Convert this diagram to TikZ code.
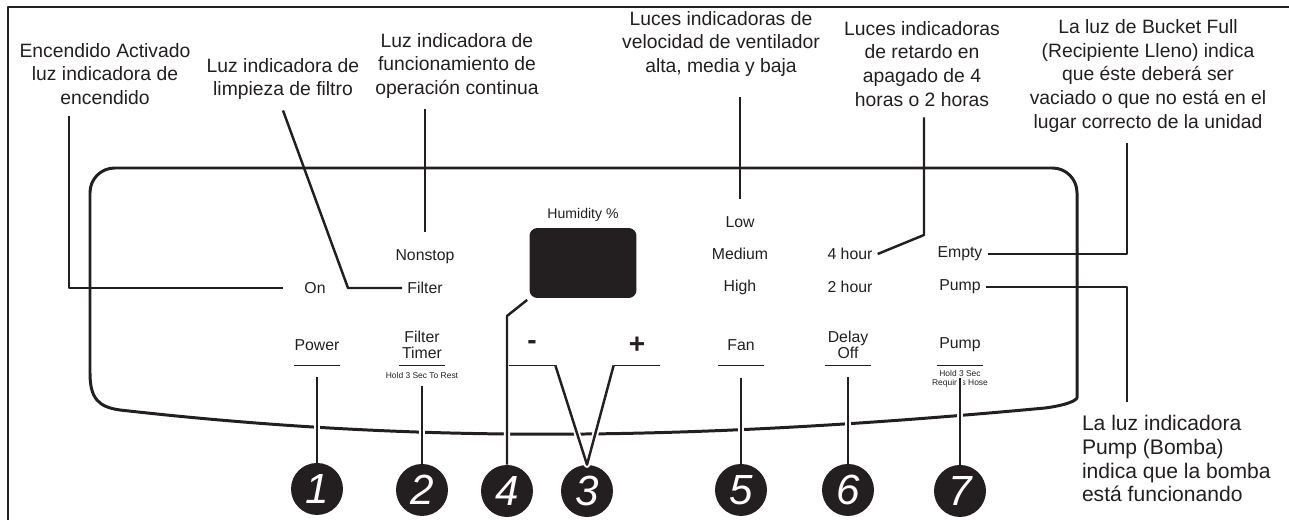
\documentclass[tikz,border=0pt]{standalone}
\usepackage{fontspec}
\setsansfont{Liberation Sans}
\definecolor{ink}{HTML}{231F20}

\begin{document}
\begin{tikzpicture}[x=0.02cm,y=-0.02cm,line join=round,
    every node/.style={font=\sffamily,text=ink},
    callout/.style={align=center,inner sep=0pt,outer ysep=6pt,font=\sffamily\fontsize{11}{13.6}\selectfont},
    lamp/.style={inner sep=0pt,outer xsep=3pt,font=\sffamily\fontsize{9}{9}\selectfont},
    key/.style={align=center,inner sep=0pt,minimum width=0.92cm,minimum height=0.8cm,font=\sffamily\fontsize{9}{9.2}\selectfont},
    smallprint/.style={align=center,inner sep=0pt,font=\sffamily\fontsize{4.8}{5.4}\selectfont},
    screen/.style={fill=ink,rounded corners=4.5pt,minimum width=2.14cm,minimum height=1.4cm,inner sep=0pt},
    num/.style={circle,fill=ink,text=white,minimum size=1.04cm,inner sep=0pt,font=\sffamily\itshape\fontsize{24}{24}\selectfont},
    lead/.style={draw=ink,line width=1.4pt},
    halo/.style={preaction={draw=white,line width=3.6pt}},
    bar/.style={draw=ink,line width=0.9pt}]
  \useasboundingbox (0,0) rectangle (1289,520);

  % frame and panel outline
  \draw[ink,line width=1.7pt] (8,520) -- (8,7) -- (1289,7);
  \draw[ink,line width=1.7pt] (90,373) [rounded corners=14pt] -- (90,168) -- (1077,168) -- (1077,373) [sharp corners]
    .. controls (1077,400) and (1068,405) .. (1045,408)
    .. controls (700,440) and (430,445) .. (120,410)
    .. controls (98,407) and (90,398) .. cycle;

  % callouts
  \node[callout] (t1) at (105,74) {Encendido Activado\\luz indicadora de\\encendido};
  \node[callout] (t2) at (283,79) {Luz indicadora de\\limpieza de filtro};
  \node[callout] (t3) at (457,66) {Luz indicadora de\\funcionamiento de\\operación continua};
  \node[callout] (t4) at (721,44) {Luces indicadoras de\\velocidad de ventilador\\alta, media y baja};
  \node[callout] (t5) at (922,64) {Luces indicadoras\\de retardo en\\apagado de 4\\horas o 2 horas};
  \node[callout] (t6) at (1148,76) {La luz de Bucket Full\\(Recipiente Lleno) indica\\que éste deberá ser\\vaciado o que no está en el\\lugar correcto de la unidad};
  \node[callout,outer sep=0pt,anchor=north west,align=left,font=\sffamily\fontsize{12}{13.6}\selectfont] (t7) at (1082,415) {La luz indicadora\\Pump (Bomba)\\indica que la bomba\\está funcionando};

  % indicator lights
  \node[lamp] (nonstop) at (425,257) {Nonstop};
  \node[lamp] (filter) [below of=nonstop,node distance=0.62cm] {Filter};
  \node[lamp] (on) [left of=filter,node distance=2.2cm] {On};
  \node[lamp] (low) at (740,222) {Low};
  \node[lamp] (medium) [below of=low,node distance=0.64cm] {Medium};
  \node[lamp] (high) [below of=medium,node distance=0.66cm] {High};
  \node[lamp] (h4) [right of=medium,node distance=2.2cm] {4 hour};
  \node[lamp] (h2) [right of=high,node distance=2.2cm] {2 hour};
  \node[lamp] (empty) [right of=h4,node distance=2.2cm] {Empty};
  \node[lamp] (pumplamp) [right of=h2,node distance=2.2cm] {Pump};

  % display
  \node[screen] (disp) at (583,263) {};
  \node[lamp,font=\sffamily\fontsize{8}{8}\selectfont] (hum) [above of=disp,node distance=0.96cm] {Humidity \%};

  % keys
  \node[key] (power) at (317,345) {Power};
  \node[key] (ftimer) at (422,345) {Filter\\Timer};
  \node[key,font=\sffamily\bfseries\fontsize{16}{16}\selectfont] (minus) at (532,345) {-};
  \node[key,font=\sffamily\bfseries\fontsize{16}{16}\selectfont] (plus) at (637,345) {+};
  \node[key] (fan) at (741,345) {Fan};
  \node[key] (delay) at (848,345) {Delay\\Off};
  \node[key] (pumpkey) at (960,345) {Pump};
  \node[smallprint] (hold1) [below of=ftimer,node distance=0.6cm] {Hold 3 Sec To Rest};
  \node[smallprint] (hold2) [below of=pumpkey,node distance=0.68cm] {Hold 3 Sec\\Requires Hose};

  % numbers
  \node[num] (n1) [below of=power,node distance=2.88cm] {1};
  \node[num] (n2) [below of=ftimer,node distance=2.9cm] {2};
  \node[num] (n4) at (507,491) {4};
  \node[num] (n3) at (587,491) {3};
  \node[num] (n5) [below of=fan,node distance=2.9cm] {5};
  \node[num] (n6) [below of=delay,node distance=2.9cm] {6};
  \node[num] (n7) [below of=pumpkey,node distance=2.92cm] {7};

  \coordinate (k1) at (69,288);
  \coordinate (k2) at (348,288);
  \coordinate (k4) at (507,316);
  \coordinate (k5) at (924,235);
  \coordinate (k6) at (1127,254);
  \coordinate (k7) at (1127,402);

  % leaders to the lights
  \draw[lead,shorten >=0.32cm] (t1.south -| k1) -- (on.west -| k1) -- (on.west);
  \draw[lead] (t2.south) -- (filter.west -| k2) -- (filter.west);
  \draw[lead,shorten >=0.35cm] (t3.south -| nonstop.north) -- (nonstop.north);
  \draw[lead,shorten <=0.2cm,shorten >=0.34cm] (t4.south -| low.north) -- (low.north);
  \draw[lead] (t5.south -| k5) -- (k5) -- (h4.east);
  \draw[lead] (t6.south -| k6) -- (empty.east -| k6) -- (empty.east);
  \draw[lead] (pumplamp.east) -| (k7);

  % leaders to the keys
  \draw[lead,halo,shorten >=0.24cm] (n1.north) -- (power.south);
  \draw[lead,halo,shorten >=0.16cm] (n2.north) -- (hold1.south);
  \draw[lead,halo,shorten >=0.05cm] (n4.north) -- (k4) -- (disp.south west);
  \draw[lead,halo] (minus.south east) -- (n3.north) -- (plus.south west);
  \draw[lead,halo,shorten >=0.26cm] (n5.north) -- (fan.south);
  \draw[lead,halo,shorten >=0.24cm] (n6.north) -- (delay.south);
  \draw[lead,halo,shorten >=0.26cm] (n7.north) -- (pumpkey.south);

  \path[bar]
    (power.south west) edge (power.south east)
    (ftimer.south west) edge (ftimer.south east)
    (minus.south west) edge (minus.south east)
    (plus.south west) edge (plus.south east)
    (fan.south west) edge (fan.south east)
    (delay.south west) edge (delay.south east)
    (pumpkey.south west) edge (pumpkey.south east)
  ;
\end{tikzpicture}
\end{document}
